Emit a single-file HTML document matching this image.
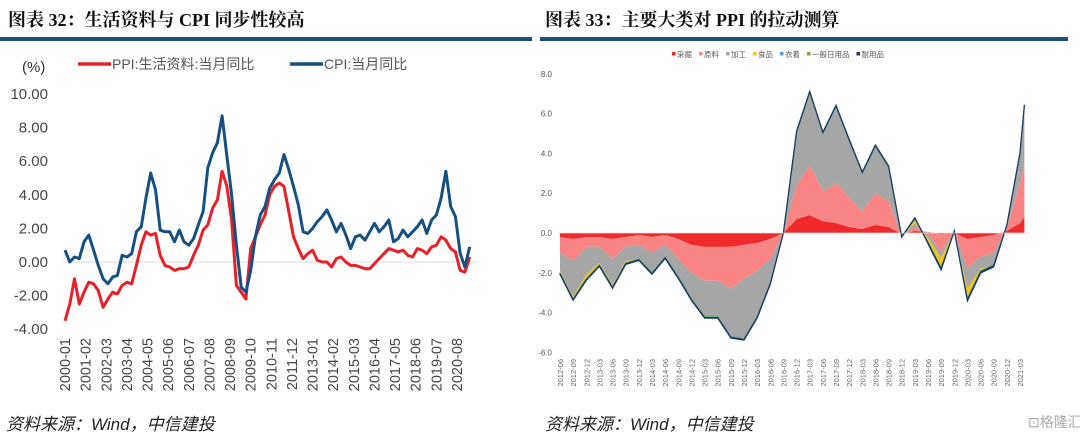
<!DOCTYPE html>
<html><head><meta charset="utf-8"><style>
body{margin:0;width:1080px;height:437px;background:#fff;overflow:hidden;font-family:"Liberation Sans","Noto Sans CJK SC",sans-serif;position:relative}
.t{position:absolute;top:6px;font-size:18px;font-weight:bold;font-family:"Liberation Serif","Noto Serif CJK SC",serif;color:#111}
.rule{position:absolute;top:37px;height:4px;background:#1f4e79}
.src{position:absolute;top:410px;font-size:17px;font-style:italic;color:#222;font-family:"Liberation Sans","Noto Sans CJK SC",sans-serif}
svg{position:absolute;left:0;top:0}
</style></head><body>
<div class="t" style="left:8px">图表 32：生活资料与 CPI 同步性较高</div>
<div class="t" style="left:545px">图表 33：主要大类对 PPI 的拉动测算</div>
<div class="rule" style="left:0;width:532px"></div>
<div class="rule" style="left:540px;width:528px"></div>
<div class="src" style="left:6px">资料来源：Wind，中信建投</div>
<div class="src" style="left:545px">资料来源：Wind，中信建投</div>
<div style="position:absolute;left:1028px;top:412px;font-size:14px;color:#aaa;white-space:nowrap">⊡格隆汇</div>
<svg id="c" width="1080" height="437"></svg>
<script>
// ---- Left chart data (quarterly samples from 2000-01) ----
const cpiValues=[0.7,0,0.3,0.2, 1.2,1.6,0.7,-0.2, -1.0,-1.3,-0.9,-0.8, 0.4,0.3,0.5,1.8, 2.1,3.8,5.3,4.3, 1.9,1.8,1.8,1.2, 1.9,1.2,1.0,1.4, 2.2,3.0,5.6,6.5, 7.1,8.7,6.3,4.0, 1.0,-1.5,-1.8,-0.5, 1.5,2.8,3.3,4.4, 4.9,5.3,6.4,5.5, 4.5,3.4,1.8,1.7, 2.0,2.4,2.7,3.1, 2.5,1.8,2.3,1.6, 0.8,1.5,1.6,1.3, 1.8,2.3,1.8,2.1, 2.5,1.2,1.4,1.9, 1.5,1.8,2.1,2.5, 1.7,2.5,2.8,3.8, 5.4,3.3,2.7,0.5, -0.3,0.9];
const ppiLifeValues=[-3.5,-2.5,-1.0,-2.5, -1.8,-1.2,-1.3,-1.7, -2.7,-2.2,-1.8,-1.9, -1.4,-1.2,-1.3,-0.2, 1.0,1.8,1.6,1.7, 0.4,-0.2,-0.3,-0.5, -0.4,-0.4,-0.3,0.4, 1.0,1.9,2.2,3.2, 3.7,5.4,4.5,2.5, -1.4,-1.8,-2.2,0.8, 1.5,2.2,2.8,4.0, 4.5,4.7,4.5,3.0, 1.5,0.8,0.2,0.5, 0.7,0.1,0.0,0.0, -0.3,0.2,0.3,0.0, -0.2,-0.2,-0.3,-0.4, -0.4,-0.1,0.2,0.5, 0.8,0.7,0.6,0.7, 0.4,0.3,0.8,0.7, 0.5,0.9,1.0,1.5, 1.3,0.8,0.6,-0.5, -0.6,0.3];
const leftYTicks=[10,8,6,4,2,0,-2,-4];
const leftXLabels=["2000-01","2001-02","2002-03","2003-04","2004-05","2005-06","2006-07","2007-08","2008-09","2009-10","2010-11","2011-12","2013-01","2014-02","2015-03","2016-04","2017-05","2018-06","2019-07","2020-08"];
// ---- Right chart data (quarterly from 2012-06, plus 2021-04) ----
const rightDates=["2012-06","2012-09","2012-12","2013-03","2013-06","2013-09","2013-12","2014-03","2014-06","2014-09","2014-12","2015-03","2015-06","2015-09","2015-12","2016-03","2016-06","2016-09","2016-12","2017-03","2017-06","2017-09","2017-12","2018-03","2018-06","2018-09","2018-12","2019-03","2019-06","2019-09","2019-12","2020-03","2020-06","2020-09","2020-12","2021-03","2021-04"];
const mining=[-0.2,-0.3,-0.2,-0.2,-0.3,-0.2,-0.1,-0.2,-0.1,-0.3,-0.6,-0.7,-0.7,-0.7,-0.6,-0.5,-0.3,0,0.7,0.9,0.6,0.5,0.3,0.2,0.4,0.3,-0.05,0.1,0.05,-0.05,0,-0.3,-0.2,-0.1,0.1,0.5,0.8];
const rawMaterial=[-0.8,-1.1,-0.5,-0.5,-1.0,-0.5,-0.5,-0.8,-0.5,-1.0,-1.4,-1.7,-1.7,-2.1,-1.7,-1.4,-1.0,0,1.7,2.5,1.5,2.0,1.5,0.9,1.6,1.3,-0.1,0.2,-0.1,-0.9,0.05,-1.5,-1.0,-0.9,0.2,2.0,2.7];
const processing=[-0.9,-1.8,-1.4,-0.8,-1.3,-0.7,-0.7,-1.0,-0.6,-0.9,-1.3,-1.8,-1.8,-2.4,-3.0,-2.3,-1.2,0,2.6,3.6,2.9,3.8,2.8,1.9,2.3,1.7,-0.05,0.2,-0.2,-0.3,0,-1.0,-0.6,-0.6,0.1,1.5,2.9];
const food=[-0.1,-0.1,-0.2,-0.1,-0.1,-0.1,0,0,0,0,0,0,0,0,0,0,0,0,0.05,0.05,0,0.05,0.05,0,0.05,0,0,0.2,-0.2,-0.5,0.05,-0.5,-0.1,0,0,0,0];
const clothing=[-0.02,-0.02,-0.02,-0.02,-0.02,-0.02,-0.02,-0.02,-0.02,-0.02,-0.02,-0.02,-0.02,-0.02,-0.02,-0.02,-0.02,0,0.02,0.02,0.02,0.02,0.02,0.02,0.02,0.02,0,0.02,-0.02,-0.02,0,-0.02,-0.02,-0.02,0,0,0];
const dailyGoods=[-0.03,-0.03,-0.03,-0.03,-0.03,-0.03,-0.03,-0.03,-0.03,-0.03,-0.03,-0.03,-0.03,-0.03,-0.03,-0.03,-0.03,0,0.03,0.03,0.03,0.03,0.03,0.03,0.03,0.03,0,0.03,-0.03,-0.03,0,-0.03,-0.03,-0.03,0,0.02,0.02];
const durables=[-0.03,-0.03,-0.03,-0.03,-0.03,-0.03,-0.03,-0.03,-0.03,-0.03,-0.03,-0.03,-0.03,-0.03,-0.03,-0.03,-0.03,0,0.02,0.02,0.02,0.02,0.02,0.02,0.02,0.02,0,0.02,-0.04,-0.06,0,-0.06,-0.06,-0.06,0,0.02,0.02];
const rightYTicks=[8,6,4,2,0,-2,-4,-6];
const rightSeriesNames=["采掘","原料","加工","食品","衣着","一般日用品","耐用品"];

const NS="http://www.w3.org/2000/svg",svg=document.getElementById('c');
function el(t,a,p){const e=document.createElementNS(NS,t);for(const k in a)e.setAttribute(k,a[k]);(p||svg).appendChild(e);return e;}
// Left axes
const lx=i=>65+i*3*(392/247), ly=v=>262-v*16.8;
leftYTicks.forEach(v=>{const t=el('text',{x:48,y:ly(v)+5,'text-anchor':'end','font-size':15,fill:'#444'});t.textContent=v.toFixed(2);

});
const zl=el('line',{x1:63,x2:478,y1:ly(0),y2:ly(0),stroke:'#ddd','stroke-width':1});


leftXLabels.forEach((s,i)=>{const x=65+i*13*(392/247);const t=el('text',{transform:`translate(${x+5},${338}) rotate(-90)`,'text-anchor':'end','font-size':14.5,fill:'#444'});t.textContent=s;

});
function lineP(arr){return arr.map((v,i)=>(i?'L':'M')+lx(i).toFixed(1)+','+ly(v).toFixed(1)).join('');}
const pl=el('path',{d:lineP(ppiLifeValues),fill:'none',stroke:'#e8202a','stroke-width':3,'stroke-linejoin':'round'});


const cl=el('path',{d:lineP(cpiValues),fill:'none',stroke:'#17507f','stroke-width':3,'stroke-linejoin':'round'});


const pu=el('text',{x:22,y:72,'font-size':15,fill:'#333'});pu.textContent='(%)';


[[78,'#e8202a','PPI:生活资料:当月同比'],[290,'#17507f','CPI:当月同比']].forEach(([x,c,s],k)=>{
const g=el('g',{});
el('line',{x1:x,x2:x+33,y1:64,y2:64,stroke:c,'stroke-width':3.5},g);const t=el('text',{x:x+34,y:69,'font-size':14,fill:'#555'},g);t.textContent=s;});
// Right chart
const rx=d=>{const [y,m]=d.split('-').map(Number);return 560+((y-2012)*12+m-6)*(460/105);}, ry=v=>233-v*19.9;
rightYTicks.forEach(v=>{const t=el('text',{x:552,y:ry(v)+3,'text-anchor':'end','font-size':8,fill:'#555'});t.textContent=v.toFixed(1);

});
const series=[mining,rawMaterial,processing,food,clothing,dailyGoods,durables];
const colors=['#ee2a2a','#f98484','#a6a6a6','#f2c814','#5b9bd5','#70ad47','#1f3864'];
let base=rightDates.map(()=>0);
series.forEach((s,k)=>{const top=base.map((b,i)=>b+s[i]);
let d=top.map((v,i)=>(i?'L':'M')+rx(rightDates[i]).toFixed(1)+','+ry(v).toFixed(1)).join('');
for(let i=base.length-1;i>=0;i--)d+='L'+rx(rightDates[i]).toFixed(1)+','+ry(base[i]).toFixed(1);
const p=el('path',{d:d+'Z',fill:colors[k],stroke:k>=4?colors[k]:'none','stroke-width':k>=4?1.2:0});


base=top;});
const zr=el('line',{x1:558,x2:1030,y1:ry(0),y2:ry(0),stroke:'#ddd','stroke-width':0.8});


rightDates.slice(0,36).forEach(s=>{const t=el('text',{transform:`translate(${rx(s)+3},${359}) rotate(-90)`,'text-anchor':'end','font-size':7.5,fill:'#666'});t.textContent=s;

});
let lxp=672;rightSeriesNames.forEach((n,k)=>{const g=el('g',{});
el('rect',{x:lxp,y:52,width:3.5,height:3.5,fill:colors[k]},g);const t=el('text',{x:lxp+5,y:57,'font-size':7.5,fill:'#555'},g);t.textContent=n;lxp+=n.length*7.5+12;});
</script>
</body></html>
